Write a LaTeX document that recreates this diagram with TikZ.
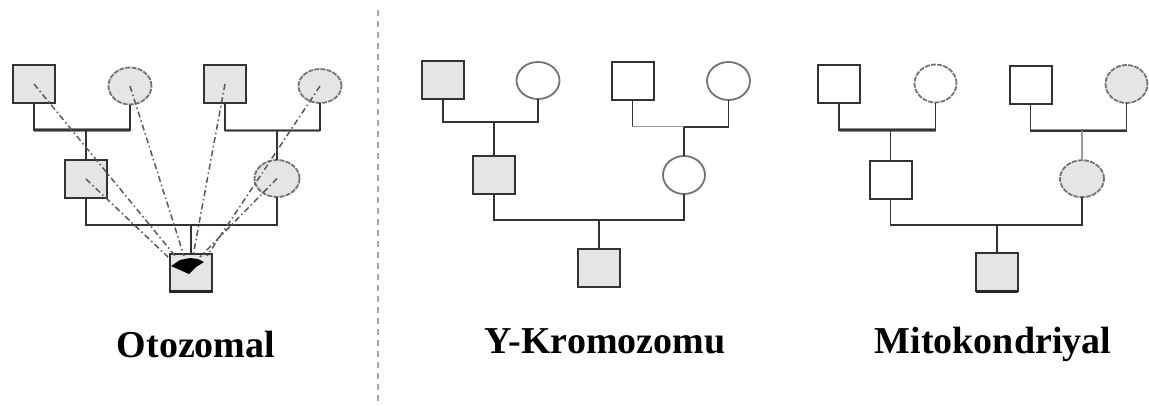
\documentclass[tikz,border=0pt]{standalone}
\usepackage{fontspec}
\setmainfont{Liberation Serif}
\usetikzlibrary{shapes.geometric}
\begin{document}
\begin{tikzpicture}[x=1pt,y=-1pt,
  male/.style={draw=black!80, line width=2pt, rectangle, inner sep=0pt, outer sep=0pt,
    minimum width=42pt, minimum height=38pt},
  female/.style={draw=black!55, line width=1.8pt, ellipse, inner sep=0pt, outer sep=0pt,
    minimum width=43pt, minimum height=37pt},
  dotted edge/.style={dash pattern=on 5pt off 1.2pt},
  affected/.style={fill=black!10},
  kin/.style={draw=black!80, line width=1.9pt},
  softkin/.style={draw=black!40, line width=1.9pt},
  band/.style={draw=black!45, line width=3.5pt},
  trace/.style={draw=black!65, line width=1.5pt, dash pattern=on 6pt off 3pt on 1.5pt off 3pt},
  label/.style={anchor=base, font=\bfseries\fontsize{38}{40}\selectfont},
  divider/.style={draw=black!35, line width=2.5pt, dash pattern=on 6pt off 5pt}
]
\useasboundingbox (0,0) rectangle (1149,405);

% ---------- autosomal ----------
\node[male, affected] (o1) at (34,84) {};
\node[female, affected, dotted edge] (o2) at (130,86) {};
\node[male, affected] (o3) at (225,84) {};
\node[female, affected, dotted edge, minimum height=34pt] (o4) at (320,86) {};
\node[male, affected] (o5) at (86,179) {};
\node[female, affected, dotted edge, minimum width=45pt] (o6) at (277,178.5) {};
\node[male, affected] (o7) at (191,272.5) {};
\coordinate (om1) at (86,130);
\coordinate (om2) at (277,130.5);
\coordinate (om3) at (191,225);

\draw[band] (o1.south |- om1) -- (o2.south |- om1);
\draw[band] (o3.south |- om2) -- (o4.south |- om2);
\draw[kin] (o1.south) |- (om1) -| (o2.south);
\draw[kin] (o3.south) |- (om2) -| (o4.south);
\draw[kin] (om1) -- (o5.north);
\draw[kin] (om2) -- (o6.north);
\draw[kin] (o5.south) |- (om3) -| (o6.south);
\draw[kin] (om3) -- (o7.north);
\draw[black!85, line width=3.5pt] (o7.south west) -- (o7.south east);
% dark marker inside the proband
\fill[black] (171,266) -- (180,260) -- (190,258) -- (198,259) -- (204,262) -- (196,267) -- (189,274) -- cycle;

\coordinate (e1) at (176,257);
\coordinate (e2) at (184,256);
\coordinate (e3) at (193,256);
\coordinate (e4) at (207,256);
\coordinate (e5) at (168,257);
\coordinate (e6) at (200,257);
\draw[trace] (o1.center) -- (e1);
\draw[trace] (o2.center) -- (e2);
\draw[trace] (o3.center) -- (e3);
\draw[trace] (o4.center) -- (e4);
\draw[trace] (o5.center) -- (e5);
\draw[trace] (o6.center) -- (e6);

\node[label] (lo) at (196,357) {Otozomal};

% ---------- divider ----------
\coordinate (d1) at (378,10);
\coordinate (d2) at (378,405);
\draw[divider] (d1) -- (d2);

% ---------- Y chromosome ----------
\node[male, affected] (y1) at (443,79.5) {};
\node[female] (y2) at (538,80.5) {};
\node[male] (y3) at (632.5,81.3) {};
\node[female, minimum height=38pt] (y4) at (728.5,81) {};
\node[male, affected] (y5) at (494,175) {};
\node[female, minimum width=42pt, minimum height=38pt] (y6) at (684,175) {};
\node[male, affected] (y7) at (599,267.7) {};
\coordinate (ym1) at (494,121.7);
\coordinate (ym2) at (684,126.7);
\coordinate (ym3) at (599,220);

\draw[kin] (y1.south) |- (ym1) -| (y2.south);
\draw[softkin, line width=1.3pt] (y3.south) |- (ym2);
\draw[kin] (ym2) -| (y4.south);
\draw[kin] (y3.south) -- ++(0,25.5);
\draw[kin] (ym1) -- (y5.north);
\draw[kin] (ym2) -- (y6.north);
\draw[kin] (y5.south) |- (ym3) -| (y6.south);
\draw[kin] (ym3) -- (y7.north);

\node[label] (ly) at (605,353) {Y-Kromozomu};

% ---------- mitochondrial ----------
\node[male] (k1) at (839,84) {};
\node[female, dotted edge, minimum width=42pt, minimum height=38pt] (k2) at (935.5,83.5) {};
\node[male] (k3) at (1030.5,85) {};
\node[female, affected, dotted edge, minimum width=42pt, minimum height=38pt] (k4) at (1126.5,84) {};
\node[male] (k5) at (890.5,179.7) {};
\node[female, affected, dotted edge, minimum width=44pt, minimum height=37pt] (k6) at (1082,178.7) {};
\node[male, affected] (k7) at (997,272.3) {};
\coordinate (km1) at (890.5,130);
\coordinate (km2) at (1082,130.7);
\coordinate (km3) at (997,225);

\draw[band] (k1.south |- km1) -- (k2.south |- km1);
\draw[band] (k3.south |- km2) -- (k4.south |- km2);
\draw[kin] (k1.south) |- (km1) -| (k2.south);
\draw[kin] (k3.south) |- (km2) -| (k4.south);
\draw[kin] (km1) -- (k5.north);
\draw[softkin] (km2) -- (k6.north);
\draw[kin] (k5.south) |- (km3) -| (k6.south);
\draw[kin] (km3) -- (k7.north);
\draw[black!85, line width=3.5pt] (k7.south west) -- (k7.south east);

\node[label] (lk) at (993,353) {Mitokondriyal};
\end{tikzpicture}
\end{document}
